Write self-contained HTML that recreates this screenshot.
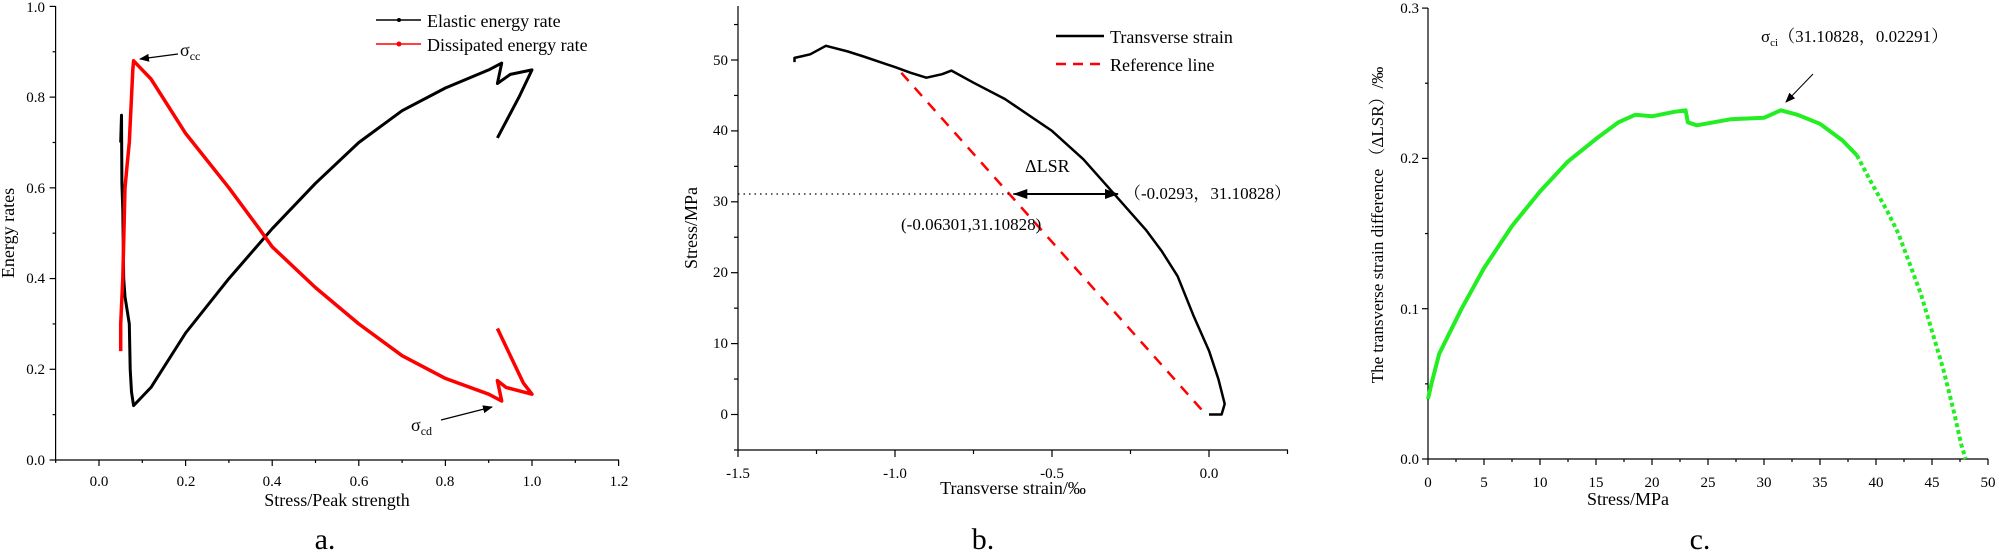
<!DOCTYPE html>
<html><head><meta charset="utf-8"><style>
html,body{margin:0;padding:0;background:#fff;}
svg{display:block;font-family:"Liberation Serif","Noto Serif CJK SC",serif;}
</style></head><body>
<svg id="s" width="1997" height="554" viewBox="0 0 1997 554" xmlns="http://www.w3.org/2000/svg">
<defs>
<marker id="ah" markerWidth="10" markerHeight="8" refX="9" refY="4" orient="auto" markerUnits="userSpaceOnUse"><path d="M0,0 L10,4 L0,8 z" fill="#000"/></marker>
<marker id="ah2" markerWidth="14" markerHeight="10" refX="13" refY="5" orient="auto" markerUnits="userSpaceOnUse"><path d="M0,0 L14,5 L0,10 z" fill="#000"/></marker>
<marker id="ah3" markerWidth="14" markerHeight="10" refX="13" refY="5" orient="auto-start-reverse" markerUnits="userSpaceOnUse"><path d="M0,0 L14,5 L0,10 z" fill="#000"/></marker>
</defs>
<g id="g"></g>
<!-- panel a texts -->
<text x="45" y="465" font-size="15" text-anchor="end">0.0</text>
<text x="45" y="374" font-size="15" text-anchor="end">0.2</text>
<text x="45" y="283" font-size="15" text-anchor="end">0.4</text>
<text x="45" y="193" font-size="15" text-anchor="end">0.6</text>
<text x="45" y="102" font-size="15" text-anchor="end">0.8</text>
<text x="45" y="12" font-size="15" text-anchor="end">1.0</text>
<text x="99" y="486" font-size="15" text-anchor="middle">0.0</text>
<text x="186" y="486" font-size="15" text-anchor="middle">0.2</text>
<text x="272" y="486" font-size="15" text-anchor="middle">0.4</text>
<text x="359" y="486" font-size="15" text-anchor="middle">0.6</text>
<text x="445" y="486" font-size="15" text-anchor="middle">0.8</text>
<text x="532" y="486" font-size="15" text-anchor="middle">1.0</text>
<text x="619" y="486" font-size="15" text-anchor="middle">1.2</text>
<text x="337" y="506" font-size="18" text-anchor="middle">Stress/Peak strength</text>
<text transform="translate(14,233) rotate(-90)" font-size="18" text-anchor="middle">Energy rates</text>
<text x="325" y="549" font-size="30" text-anchor="middle">a.</text>
<line x1="376" y1="20" x2="421" y2="20" stroke="#000" stroke-width="1.5"/><circle cx="399" cy="20" r="2" fill="#000"/>
<line x1="376" y1="44" x2="421" y2="44" stroke="#f00" stroke-width="1.5"/><circle cx="399" cy="44" r="2.5" fill="#f00"/>
<text x="427" y="27" font-size="18">Elastic energy rate</text>
<text x="427" y="51" font-size="18">Dissipated energy rate</text>
<text x="180" y="56" font-size="18">σ<tspan font-size="12" dy="4">cc</tspan></text>
<line x1="178" y1="54" x2="140" y2="59" stroke="#000" stroke-width="1.2" marker-end="url(#ah)"/>
<text x="411" y="431" font-size="18">σ<tspan font-size="12" dy="4">cd</tspan></text>
<line x1="441" y1="420" x2="492" y2="407" stroke="#000" stroke-width="1.2" marker-end="url(#ah)"/>
<!-- panel b texts -->
<text x="728" y="419" font-size="15" text-anchor="end">0</text>
<text x="728" y="348" font-size="15" text-anchor="end">10</text>
<text x="728" y="277" font-size="15" text-anchor="end">20</text>
<text x="728" y="206" font-size="15" text-anchor="end">30</text>
<text x="728" y="135" font-size="15" text-anchor="end">40</text>
<text x="728" y="65" font-size="15" text-anchor="end">50</text>
<text x="738" y="478" font-size="15" text-anchor="middle">-1.5</text>
<text x="895" y="478" font-size="15" text-anchor="middle">-1.0</text>
<text x="1052" y="478" font-size="15" text-anchor="middle">-0.5</text>
<text x="1209" y="478" font-size="15" text-anchor="middle">0.0</text>
<text x="1013" y="494" font-size="18" text-anchor="middle">Transverse strain/‰</text>
<text transform="translate(697,228) rotate(-90)" font-size="18" text-anchor="middle">Stress/MPa</text>
<text x="983" y="549" font-size="30" text-anchor="middle">b.</text>
<line x1="1056" y1="36" x2="1104" y2="36" stroke="#000" stroke-width="2.5"/>
<line x1="1056" y1="64" x2="1104" y2="64" stroke="#f00" stroke-width="2.5" stroke-dasharray="10,7"/>
<text x="1110" y="43" font-size="18">Transverse strain</text>
<text x="1110" y="71" font-size="18">Reference line</text>
<text x="1025" y="172" font-size="18">ΔLSR</text>
<text x="1124" y="199" font-size="17" font-family="Liberation Serif,'Noto Serif CJK SC',serif">（-0.0293，31.10828）</text>
<text x="901" y="230" font-size="17">(-0.06301,31.10828)</text>
<!-- panel c texts -->
<text x="1419" y="464" font-size="15" text-anchor="end">0.0</text>
<text x="1419" y="314" font-size="15" text-anchor="end">0.1</text>
<text x="1419" y="163" font-size="15" text-anchor="end">0.2</text>
<text x="1419" y="13" font-size="15" text-anchor="end">0.3</text>
<text x="1628" y="505" font-size="18" text-anchor="middle">Stress/MPa</text>
<text transform="translate(1383,225) rotate(-90)" font-size="17" text-anchor="middle">The transverse strain difference （ΔLSR）/‰</text>
<text x="1700" y="549" font-size="30" text-anchor="middle">c.</text>
<text x="1761" y="42" font-size="17">σ<tspan font-size="11" dy="4">ci</tspan><tspan dy="-4">（31.10828，0.02291）</tspan></text>
<line x1="1813" y1="74" x2="1786" y2="102" stroke="#000" stroke-width="1" marker-end="url(#ah)"/>
</svg>
<script>
var g=document.getElementById('g'),NS='http://www.w3.org/2000/svg';
function el(t,a){var e=document.createElementNS(NS,t);for(var k in a)e.setAttribute(k,a[k]);g.appendChild(e);return e;}
function line(x1,y1,x2,y2,w,c){el('line',{x1:x1,y1:y1,x2:x2,y2:y2,stroke:c||'#000','stroke-width':w||1.2});}
function poly(pts,fx,fy,attrs){var s=pts.map(function(p){return fx(p[0]).toFixed(1)+','+fy(p[1]).toFixed(1)}).join(' ');attrs.points=s;attrs.fill='none';attrs['stroke-linejoin']='round';return el('polyline',attrs);}
// panel a
var ax=function(x){return 99+433*x},ay=function(y){return 460-453.6*y};
line(55.6,460,619,460);line(55.6,460,55.6,6);
for(var i=-1;i<=12;i++){var x=ax(i/10);line(x,460,x,i%2==0?466:463);}
for(var i=0;i<=10;i++){var y=ay(i/10);line(55.6,y,i%2==0?49.6:52.6,y);}
var el_=[[0.05,0.70],[0.052,0.76],[0.053,0.61],[0.055,0.55],[0.057,0.40],[0.06,0.36],[0.07,0.30],[0.072,0.20],[0.075,0.15],[0.08,0.12],[0.09,0.13],[0.12,0.16],[0.2,0.28],[0.3,0.40],[0.4,0.51],[0.5,0.61],[0.6,0.70],[0.7,0.77],[0.8,0.82],[0.9,0.86],[0.93,0.875],[0.92,0.83],[0.95,0.85],[1.0,0.86],[0.97,0.80],[0.92,0.71]];
var dis=[[0.05,0.24],[0.05,0.30],[0.055,0.40],[0.06,0.60],[0.065,0.65],[0.07,0.70],[0.075,0.80],[0.078,0.86],[0.08,0.88],[0.1,0.86],[0.12,0.84],[0.2,0.72],[0.3,0.60],[0.37,0.51],[0.4,0.47],[0.5,0.38],[0.6,0.30],[0.7,0.23],[0.8,0.18],[0.9,0.145],[0.93,0.13],[0.92,0.175],[0.94,0.16],[1.0,0.145],[0.98,0.17],[0.92,0.29]];
poly(el_,ax,ay,{stroke:'#000','stroke-width':3});
poly(dis,ax,ay,{stroke:'#f00','stroke-width':3.5});
// panel b
var bx=function(x){return 1209+314*x},by=function(y){return 414.5-7.09*y};
line(738,450,1288,450);line(738,450,738,6);
for(var i=-6;i<=1;i++){var x=bx(i/4);line(x,450,x,i%2==0?457:454);}
for(var i=-1;i<=11;i++){var y=by(i*5);line(738,y,i%2==0?731:734,y);}
var bc=[[-1.32,49.7],[-1.32,50.3],[-1.3,50.5],[-1.27,50.8],[-1.22,52],[-1.15,51.2],[-1.1,50.5],[-1.0,49],[-0.95,48.2],[-0.9,47.5],[-0.85,48],[-0.82,48.5],[-0.75,46.8],[-0.65,44.5],[-0.5,40],[-0.4,36],[-0.3,31],[-0.2,26],[-0.15,23],[-0.1,19.5],[-0.05,14],[0,9],[0.03,5],[0.05,1.5],[0.04,0],[0,0]];
poly(bc,bx,by,{stroke:'#000','stroke-width':2.5});
poly([[-0.98,48.2],[-0.01,0]],bx,by,{stroke:'#f00','stroke-width':2.5,'stroke-dasharray':'11,9'});
line(738,by(31.1),bx(-0.62),by(31.1),1.3);g.lastChild.setAttribute('stroke-dasharray','1.5,4');
var a=el('line',{x1:bx(-0.62),y1:by(31.1),x2:bx(-0.29),y2:by(31.1),stroke:'#000','stroke-width':2,'marker-end':'url(#ah2)','marker-start':'url(#ah3)'});
// panel c
var cx=function(x){return 1428+11.2*x},cy=function(y){return 459-1503*y};
line(1428,459,1988,459);line(1428,459,1428,8);
for(var i=0;i<=20;i++){var x=cx(i*2.5);line(x,459,x,i%2==0?465:462);}
for(var i=0;i<=6;i++){var y=cy(i*0.05);line(1428,y,i%2==0?1422:1425,y);}
for(var i=0;i<=10;i++){var t=document.createElementNS(NS,'text');t.setAttribute('x',cx(i*5));t.setAttribute('y',487);t.setAttribute('font-size',15);t.setAttribute('text-anchor','middle');t.textContent=i*5;g.appendChild(t);}
var c1=[[0,0.04],[0.3,0.05],[1,0.07],[2,0.085],[3,0.1],[5,0.127],[7.5,0.155],[10,0.178],[12.5,0.198],[15,0.213],[17,0.224],[18.5,0.229],[20,0.228],[22,0.231],[23,0.232],[23.2,0.224],[24,0.222],[27,0.226],[30,0.227],[31.5,0.232],[33,0.229],[35,0.223],[37,0.212],[38.3,0.202]];
var c2=[[38.3,0.202],[39.5,0.185],[41,0.165],[42,0.15],[43,0.13],[44,0.11],[45,0.085],[46,0.06],[47,0.03],[47.6,0.01],[48,0]];
poly(c1,cx,cy,{stroke:'#22ee22','stroke-width':4});
poly(c2,cx,cy,{stroke:'#22ee22','stroke-width':4,'stroke-dasharray':'4,3'});
</script>
</body></html>
